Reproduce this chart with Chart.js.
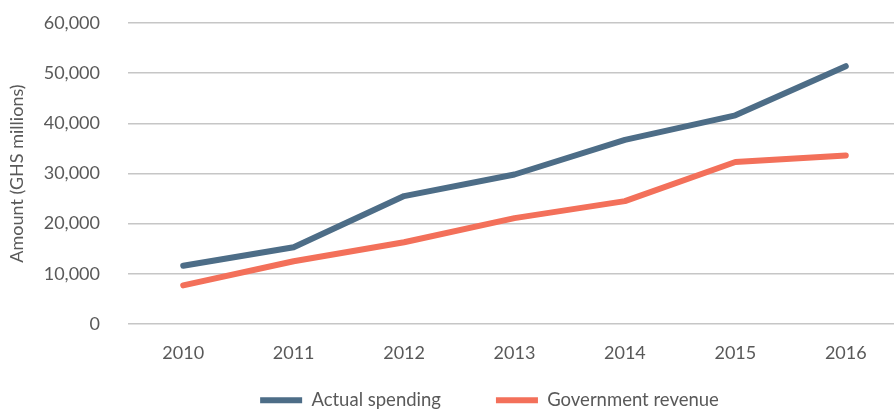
<!DOCTYPE html>
<html>
<head>
<meta charset="utf-8">
<script src="https://cdn.jsdelivr.net/npm/chart.js@4"></script>
<style>
    html, body { margin: 0; padding: 0; background: #ffffff; }
    #wrap { width: 894px; height: 410px; overflow: hidden; position: relative; }
    #wrap div { width: 901px; height: 410px; }
</style>
</head>
<body>
<div id="wrap"><div><canvas id="data-chart"></canvas></div></div>
<script>
var years = ["2010", "2011", "2012", "2013", "2014", "2015", "2016"];
var actualSpending = [11600, 15300, 25500, 29800, 36700, 41600, 51400];
var governmentRevenue = [7700, 12500, 16300, 21100, 24500, 32300, 33600];
var yTicks = [0, 10000, 20000, 30000, 40000, 50000, 60000];

var textColor = "#595959";
var fontFamily = "Lato, 'Noto Sans', sans-serif";

var ctx = document.getElementById("data-chart").getContext("2d");

// nudge the legend so it sits where the original one does
var legendShift = {
    id: "legendShift",
    afterLayout: function (chart) {
        var lg = chart.legend;
        lg.left += 39; lg.right += 39;
        lg.top -= 30; lg.bottom -= 30;
    }
};

var dataForChart = {
    labels: years,
    datasets: [{
        label: "Actual spending",
        data: actualSpending,
        borderColor: "#4d6d87",
        backgroundColor: "#4d6d87",
        borderWidth: 6,
        borderCapStyle: "round",
        borderJoinStyle: "round",
        pointRadius: 0,
        pointStyle: "line",
        tension: 0
    }, {
        label: "Government revenue",
        data: governmentRevenue,
        borderColor: "#f3705a",
        backgroundColor: "#f3705a",
        borderWidth: 6,
        borderCapStyle: "round",
        borderJoinStyle: "round",
        pointRadius: 0,
        pointStyle: "line",
        tension: 0
    }]
};

var myLineChart = new Chart(ctx, {
    type: "line",
    data: dataForChart,
    plugins: [legendShift],
    options: {
        responsive: true,
        maintainAspectRatio: false,
        animation: false,
        layout: {
            padding: { left: 0, top: 23, right: 0, bottom: -39.5 }
        },
        plugins: {
            tooltip: { enabled: false },
            legend: {
                position: "bottom",
                labels: {
                    usePointStyle: true,
                    pointStyleWidth: 42,
                    boxHeight: 6,
                    padding: 55,
                    color: textColor,
                    font: { family: fontFamily, size: 18.5 }
                }
            }
        },
        scales: {
            x: {
                offset: true,
                grid: { display: false, drawTicks: false },
                border: { display: false },
                ticks: {
                    padding: 18,
                    color: textColor,
                    font: { family: fontFamily, size: 18 }
                },
                afterFit: function (scale) { scale.height = 42; }
            },
            y: {
                min: yTicks[0],
                max: yTicks[yTicks.length - 1],
                afterBuildTicks: function (scale) {
                    scale.ticks = yTicks.map(function (v) { return { value: v }; });
                },
                grid: { color: "#c6c6c6", lineWidth: 1.5, drawTicks: true, tickLength: 25, tickColor: "rgba(0,0,0,0)" },
                border: { display: false },
                ticks: {
                    padding: 3,
                    color: textColor,
                    font: { family: fontFamily, size: 18 },
                    callback: function (v) { return v.toLocaleString("en-US"); }
                },
                title: {
                    display: true,
                    text: "Amount (GHS millions)",
                    color: textColor,
                    font: { family: fontFamily, size: 18 },
                    padding: { top: 6, bottom: 0 }
                },
                afterFit: function (scale) { scale.width = 128; }
            }
        }
    }
});
</script>
</body>
</html>
